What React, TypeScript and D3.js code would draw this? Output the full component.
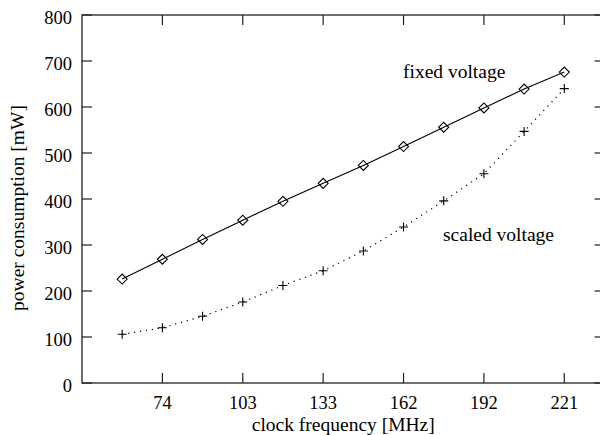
import React from "react";
import * as d3 from "d3";

const freqs = [58.98, 73.73, 88.47, 103.22, 117.96, 132.71, 147.46, 162.2, 176.95, 191.69, 206.44, 221.18];
const fixedVoltage = [226, 269, 312, 354, 395, 434, 473, 514, 556, 598, 639, 676];
const scaledVoltage = [106, 120, 145, 176, 212, 244, 287, 339, 396, 455, 547, 640];
const xTickValues = [73.73, 103.22, 132.71, 162.2, 191.69, 221.18];
const xTickLabels = ["74", "103", "133", "162", "192", "221"];
const yTickValues = [0, 100, 200, 300, 400, 500, 600, 700, 800];

const W = 600;
const H = 435;
const FONT = '"Liberation Serif", "DejaVu Serif", "Times New Roman", serif';

export default function App() {
  const x = d3.scaleLinear().domain([44.24, 235.93]).range([82, 604.5]);
  const y = d3.scaleLinear().domain([0, 800]).range([383, 15]);
  const line = d3
    .line<[number, number]>()
    .x((d) => x(d[0]))
    .y((d) => y(d[1]));
  const fixedPts: [number, number][] = freqs.map((f, i) => [f, fixedVoltage[i]]);
  const scaledPts: [number, number][] = freqs.map((f, i) => [f, scaledVoltage[i]]);
  const [x0, x1] = x.range();
  const [y0, y1] = y.range();
  const tick = 10;
  const axisColor = "#222";
  const numStyle: React.CSSProperties = { fontFamily: FONT, fontSize: 18.5 };
  const wordStyle: React.CSSProperties = { fontFamily: FONT, fontSize: 19.5 };

  return (
    <svg
      width={W}
      height={H}
      style={{ position: "absolute", left: 0, top: 0, background: "#fff" }}
    >
      <rect x={0} y={0} width={W} height={H} fill="#fff" />
      <rect x={x0} y={y1} width={x1 - x0} height={y0 - y1} fill="none" stroke={axisColor} strokeWidth={1.3} />
      {yTickValues.map((v) => (
        <g key={"y" + v}>
          <line x1={x0} x2={x0 + tick} y1={y(v)} y2={y(v)} stroke={axisColor} strokeWidth={1.2} />
          <line x1={x1} x2={x1 - tick} y1={y(v)} y2={y(v)} stroke={axisColor} strokeWidth={1.2} />
          <text x={72} y={y(v) + 8.5} textAnchor="end" fill="#000" style={numStyle}>
            {v}
          </text>
        </g>
      ))}
      {xTickValues.map((v, i) => (
        <g key={"x" + i}>
          <line x1={x(v)} x2={x(v)} y1={y0} y2={y0 - tick} stroke={axisColor} strokeWidth={1.2} />
          <line x1={x(v)} x2={x(v)} y1={y1} y2={y1 + tick} stroke={axisColor} strokeWidth={1.2} />
          <text x={x(v)} y={408.5} textAnchor="middle" fill="#000" style={numStyle}>
            {xTickLabels[i]}
          </text>
        </g>
      ))}
      <text x={(x0 + x1) / 2} y={431} textAnchor="middle" fill="#000" style={wordStyle}>
        clock frequency [MHz]
      </text>
      <text transform={`translate(24,208) rotate(-90)`} textAnchor="middle" fill="#000" style={wordStyle}>
        power consumption [mW]
      </text>
      <path d={line(fixedPts) || ""} fill="none" stroke="#000" strokeWidth={1.1} />
      {fixedPts.map((p, i) => {
        const cx = x(p[0]);
        const cy = y(p[1]);
        const r = 5;
        return (
          <path
            key={"d" + i}
            d={`M${cx - r},${cy}L${cx},${cy - r}L${cx + r},${cy}L${cx},${cy + r}Z`}
            fill="none"
            stroke="#000"
            strokeWidth={1.1}
          />
        );
      })}
      <path d={line(scaledPts) || ""} fill="none" stroke="#000" strokeWidth={1.2} strokeDasharray="1.2 4.8" />
      {scaledPts.map((p, i) => {
        const cx = x(p[0]);
        const cy = y(p[1]);
        const r = 4.5;
        return (
          <path
            key={"p" + i}
            d={`M${cx - r},${cy}L${cx + r},${cy}M${cx},${cy - r}L${cx},${cy + r}`}
            fill="none"
            stroke="#000"
            strokeWidth={1.1}
          />
        );
      })}
      <text x={403} y={78} fill="#000" style={wordStyle}>
        fixed voltage
      </text>
      <text x={443} y={241} fill="#000" style={wordStyle}>
        scaled voltage
      </text>
    </svg>
  );
}
